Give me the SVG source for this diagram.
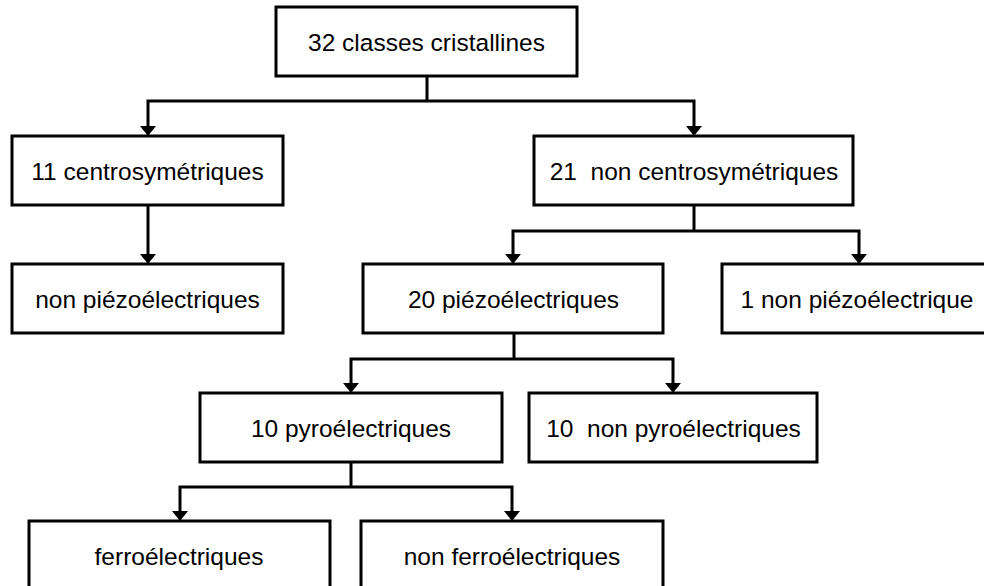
<svg xmlns="http://www.w3.org/2000/svg" width="984" height="586" viewBox="0 0 984 586">
<style>
.box{fill:#fff;stroke:#000;stroke-width:3}
.lbl{font-family:"Liberation Sans",Arial,sans-serif;font-size:24.5px;fill:#000;text-anchor:middle;white-space:pre}
.con{fill:none;stroke:#000;stroke-width:3;stroke-linejoin:miter}
</style>
<defs>
<marker id="arr" markerUnits="userSpaceOnUse" viewBox="0 0 10 16" markerWidth="10" markerHeight="16" refX="2" refY="8" orient="auto-start-reverse">
<path d="M0,0 L10,8 L0,16 Z" fill="#000"/>
</marker>
</defs>
<rect width="984" height="586" fill="#fff"/>
<g id="connectors">
<path class="con" d="M427 76 V101"/>
<path class="con" d="M148 128 V101 H694 V128" marker-start="url(#arr)" marker-end="url(#arr)"/>
<path class="con" d="M148 205 V256" marker-end="url(#arr)"/>
<path class="con" d="M694 205 V231"/>
<path class="con" d="M513 256 V231 H859 V256" marker-start="url(#arr)" marker-end="url(#arr)"/>
<path class="con" d="M514 333 V359"/>
<path class="con" d="M351 385 V359 H673 V385" marker-start="url(#arr)" marker-end="url(#arr)"/>
<path class="con" d="M351 462 V487"/>
<path class="con" d="M180 513 V487 H512 V513" marker-start="url(#arr)" marker-end="url(#arr)"/>
</g>
<g id="n32"><rect class="box" x="276" y="7" width="301" height="69"/><text class="lbl" x="426.5" y="51">32 classes cristallines</text></g>
<g id="n11"><rect class="box" x="12" y="136" width="271" height="69"/><text class="lbl" x="147.5" y="180">11 centrosymétriques</text></g>
<g id="n21"><rect class="box" x="534" y="136" width="319" height="69"/><text class="lbl" x="694" y="180" xml:space="preserve">21  non centrosymétriques</text></g>
<g id="nNP"><rect class="box" x="12" y="264" width="271" height="69"/><text class="lbl" x="147.5" y="308">non piézoélectriques</text></g>
<g id="n20"><rect class="box" x="363" y="264" width="300" height="69"/><text class="lbl" x="513.5" y="308">20 piézoélectriques</text></g>
<g id="n1"><rect class="box" x="722" y="264" width="272" height="69"/><text class="lbl" x="857" y="308">1 non piézoélectrique</text></g>
<g id="nPy"><rect class="box" x="200" y="393" width="302" height="69"/><text class="lbl" x="351" y="437">10 pyroélectriques</text></g>
<g id="nNPy"><rect class="box" x="529" y="393" width="288" height="69"/><text class="lbl" x="673.5" y="437" xml:space="preserve">10  non pyroélectriques</text></g>
<g id="nF"><rect class="box" x="29" y="521" width="301" height="69"/><text class="lbl" x="179" y="565">ferroélectriques</text></g>
<g id="nNF"><rect class="box" x="361" y="521" width="302" height="69"/><text class="lbl" x="512" y="565">non ferroélectriques</text></g>
</svg>
